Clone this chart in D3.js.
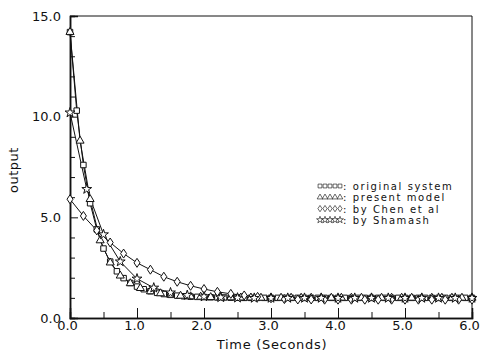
<!DOCTYPE html>
<html>
<head>
    <meta charset="utf-8" />
    <title>output vs time</title>
    <style>
        body { margin: 0; background: #fff; }
        text { font-family: 'DejaVu Sans', sans-serif; fill: #111; }
        .line { fill: none; stroke: #111; stroke-width: 1px; }
        .mark { fill: #fff; stroke: #111; stroke-width: 1px; }
    </style>
    <script type="text/javascript" src="https://cdn.jsdelivr.net/npm/d3@7/dist/d3.min.js"></script>
</head>
<body>
    <script type="text/javascript">
        // original system (squares), sampled every 0.1 s
        var tOriginal = d3.range(0, 61).map(function(i) { return i / 10; });
        var yOriginal = [14.2, 10.3, 7.6, 5.7, 4.4, 3.45, 2.8, 2.32, 1.98, 1.74,
            1.56, 1.43, 1.33, 1.25, 1.19, 1.15, 1.11, 1.08, 1.06, 1.05,
            1.04, 1.03, 1.02, 1.02, 1.01, 1.01, 1.0, 1.0, 1.0, 1.0,
            1.0, 1.0, 1.0, 1.0, 1.0, 1.0, 1.0, 1.0, 1.0, 1.0,
            1.0, 1.0, 1.0, 1.0, 1.0, 1.0, 1.0, 1.0, 1.0, 1.0,
            1.0, 1.0, 1.0, 1.0, 1.0, 1.0, 1.0, 1.0, 1.0, 1.0, 1.0];

        // present model (triangles), every 0.15 s
        var tPresent = d3.range(0, 41).map(function(i) { return i * 0.15; });
        var yPresent = [14.2, 8.8, 5.9, 3.85, 2.75, 2.1, 1.72, 1.48, 1.32, 1.22,
            1.15, 1.1, 1.07, 1.05, 1.03, 1.02, 1.02, 1.01, 1.01, 1.0,
            1.0, 1.0, 1.0, 1.0, 1.0, 1.0, 1.0, 1.0, 1.0, 1.0,
            1.0, 1.0, 1.0, 1.0, 1.0, 1.0, 1.0, 1.0, 1.0, 1.0, 1.0];

        // by Chen et al (diamonds), every 0.2 s
        var tChen = d3.range(0, 31).map(function(i) { return i / 5; });
        var yChen = [5.9, 5.07, 4.35, 3.75, 3.2, 2.74, 2.4, 2.05, 1.8, 1.6,
            1.44, 1.3, 1.2, 1.12, 1.05, 0.98, 0.94, 0.92, 0.92, 0.91,
            0.91, 0.91, 0.91, 0.91, 0.91, 0.91, 0.91, 0.91, 0.91, 0.91, 0.91];

        // by Shamash (stars), every 0.25 s
        var tShamash = d3.range(0, 25).map(function(i) { return i / 4; });
        var yShamash = [10.2, 6.4, 4.15, 2.8, 1.95, 1.5, 1.26, 1.13, 1.06, 1.02,
            1.0, 0.99, 0.99, 0.99, 0.99, 0.99, 0.99, 0.99, 0.99, 0.99,
            0.99, 0.99, 0.99, 0.99, 0.99];

        var xTicks = [0, 1, 2, 3, 4, 5, 6];
        var yTicks = [0, 5, 10, 15];
        var legendLabels = ['original system', 'present model', 'by Chen et al', 'by Shamash'];

        var width = 481, height = 357;
        var x = d3.scaleLinear().domain([0, 6]).range([70, 472]);
        var y = d3.scaleLinear().domain([0, 15]).range([318, 16]);

        var svg = d3.select('body').append('svg')
            .attr('width', width)
            .attr('height', height);

        // marker shapes
        var shapes = {
            square: d3.symbol().type(d3.symbolSquare).size(30)(),
            triangle: d3.symbol().type(d3.symbolTriangle).size(28)(),
            diamond: 'M0,-4.5L3,0L0,4.5L-3,0Z',
            star: d3.symbol().type(d3.symbolStar).size(30)()
        };

        var series = [
            { t: tOriginal, v: yOriginal, shape: 'square' },
            { t: tPresent, v: yPresent, shape: 'triangle' },
            { t: tChen, v: yChen, shape: 'diamond' },
            { t: tShamash, v: yShamash, shape: 'star' }
        ];

        // frame
        svg.append('path')
            .attr('d', 'M' + x(0) + ',' + y(15) + 'H' + x(6) + 'V' + y(0))
            .attr('fill', 'none').attr('stroke', '#111').attr('stroke-width', 1);

        // axes with inward ticks
        var xMajor = d3.axisBottom(x).tickValues(xTicks).tickSize(-10).tickFormat(d3.format('.1f')).tickPadding(3);
        var xMinor = d3.axisBottom(x).tickValues([0.5, 1.5, 2.5, 3.5, 4.5, 5.5]).tickSize(-6).tickFormat('');
        var yMajor = d3.axisLeft(y).tickValues(yTicks).tickSize(-8).tickFormat(d3.format('.1f')).tickPadding(9);
        var yMinor = d3.axisLeft(y).tickValues([1, 2, 3, 4, 6, 7, 8, 9, 11, 12, 13, 14]).tickSize(-5).tickFormat('');

        var gx = svg.append('g').attr('transform', 'translate(0,' + y(0) + ')').call(xMajor);
        gx.selectAll('.tick text').attr('dx', '-3');
        svg.append('g').attr('transform', 'translate(0,' + y(0) + ')').call(xMinor);
        [yMajor, yMinor].forEach(function(ax) {
            svg.append('g').attr('transform', 'translate(' + x(0) + ',0)').call(ax);
        });
        svg.selectAll('.domain').attr('stroke', '#111').attr('stroke-width', 1.5);
        svg.selectAll('.tick line').attr('stroke', '#111');
        svg.selectAll('.tick text').style('font-size', '13px').attr('fill', '#111');

        // series
        var line = d3.line()
            .x(function(d) { return x(d[0]); })
            .y(function(d) { return y(d[1]); });

        series.forEach(function(s) {
            var pts = s.t.map(function(t, i) { return [t, s.v[i]]; });
            svg.append('path').datum(pts).attr('class', 'line').attr('d', line);
        });
        series.forEach(function(s) {
            var pts = s.t.map(function(t, i) { return [t, s.v[i]]; });
            svg.append('g').selectAll('path')
                .data(pts)
                .enter().append('path')
                .attr('class', 'mark')
                .attr('d', shapes[s.shape])
                .attr('transform', function(d) { return 'translate(' + x(d[0]) + ',' + y(d[1]) + ')'; });
        });

        // legend
        var legend = svg.append('g');
        legendLabels.forEach(function(label, i) {
            var ly = 186 + i * 11.3;
            for (var k = 0; k < 5; k++) {
                legend.append('path')
                    .attr('class', 'mark')
                    .style('stroke-width', '0.9px')
                    .attr('d', shapes[series[i].shape])
                    .attr('transform', 'translate(' + (320 + k * 5) + ',' + ly + ') scale(0.7)');
            }
            legend.append('text')
                .attr('x', 343).attr('y', ly + 4)
                .style('font-size', '10px')
                .style('letter-spacing', '1.6px')
                .text(': ' + label);
        });

        // axis titles
        svg.append('text')
            .attr('x', 272).attr('y', 349)
            .style('text-anchor', 'middle')
            .style('font-size', '13px')
            .style('letter-spacing', '0.7px')
            .text('Time  (Seconds)');

        svg.append('text')
            .attr('transform', 'translate(18,170) rotate(-90)')
            .style('text-anchor', 'middle')
            .style('font-size', '13px')
            .style('letter-spacing', '0.5px')
            .text('output');
    </script>
</body>
</html>
